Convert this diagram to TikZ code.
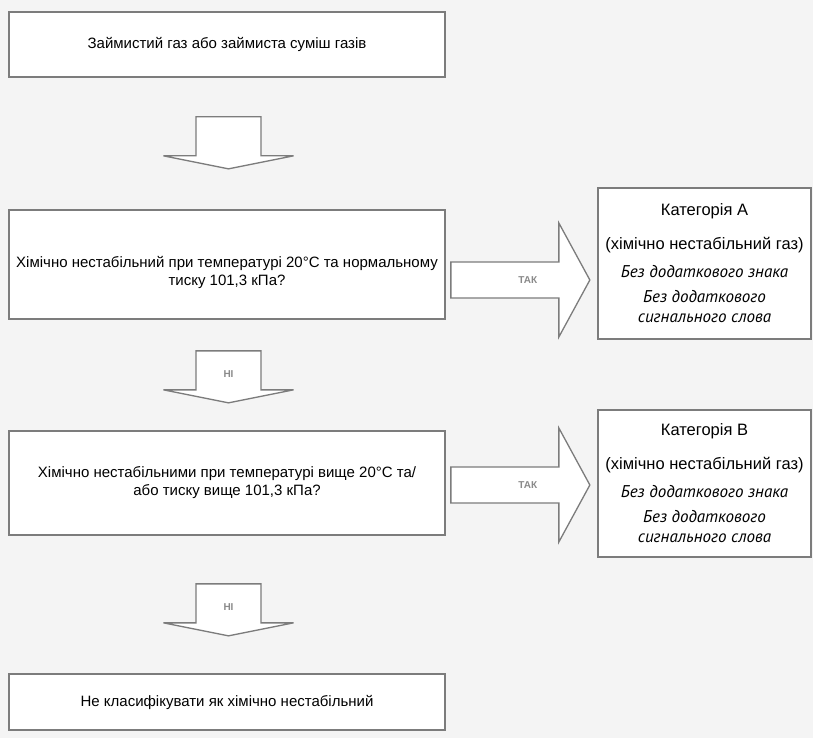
\documentclass[tikz,border=0pt]{standalone}
\usepackage{fontspec}
\setmainfont{Liberation Sans}
\newfontfamily\cursivefont{PT Sans}
\definecolor{bgcol}{HTML}{F4F4F4}
\definecolor{linegray}{HTML}{7C7C7C}
\definecolor{taggray}{HTML}{8A8A8A}
\begin{document}
\begin{tikzpicture}[x=1pt,y=-1pt,
  box/.style={draw=linegray, line width=1.7pt, fill=white, inner sep=0pt,
    align=center, font=\fontsize{15}{18}\selectfont},
  catbox/.style={box, font=\fontsize{16.5}{20}\selectfont},
  blockarrow/.style={draw=linegray, line width=1.3pt, fill=white, line join=miter},
  tag/.style={font=\fontsize{10}{11}\selectfont\bfseries, text=taggray, inner sep=0pt},
  pics/downarrow/.style={code={
    \draw[blockarrow] (-32.5,0) -- (32.5,0) -- (32.5,39) -- (65,39)
      -- (0,52) -- (-65,39) -- (-32.5,39) -- cycle;
    \node[tag] at (0,23) {#1};
  }},
  pics/rightarrow/.style={code={
    \draw[blockarrow] (0,-18) -- (108,-18) -- (108,-57) -- (139,0)
      -- (108,57) -- (108,18) -- (0,18) -- cycle;
    \node[tag] at (77,0) {#1};
  }}]
\fill[bgcol] (0,0) rectangle (813,738);
\useasboundingbox (0,0) rectangle (813,738);

% decision column
\node[box, minimum width=436pt, minimum height=65pt] (start) at (227,44.5)
  {Займистий газ або займиста суміш газів};
\node[box, minimum width=436pt, minimum height=109pt] (q1) at (227,264.5)
  {\rule{0pt}{27pt}Хімічно нестабільний при температурі 20°C та нормальному\\тиску 101,3 кПа?};
\node[box, minimum width=436pt, minimum height=104pt] (q2) at (227,483)
  {Хімічно нестабільними при температурі вище 20°C та/\\або тиску вище 101,3 кПа?};
\node[box, minimum width=436pt, minimum height=56pt] (none) at (227,702)
  {Не класифікувати як хімічно нестабільний};

% result boxes
\node[catbox, minimum width=213pt, minimum height=151pt] (catA) at (704.5,263.5)
  {Категорія A\\[14pt](хімічно нестабільний газ)\\[8pt]
   {\cursivefont\itshape\fontsize{17}{20}\selectfont Без додаткового знака}\\[5pt]
   {\cursivefont\itshape\fontsize{17}{20}\selectfont Без додаткового}\\
   {\cursivefont\itshape\fontsize{17}{20}\selectfont сигнального слова}};
\node[catbox, minimum width=213pt, minimum height=147pt] (catB) at (704.5,483.5)
  {Категорія B\\[14pt](хімічно нестабільний газ)\\[8pt]
   {\cursivefont\itshape\fontsize{17}{20}\selectfont Без додаткового знака}\\[5pt]
   {\cursivefont\itshape\fontsize{17}{20}\selectfont Без додаткового}\\
   {\cursivefont\itshape\fontsize{17}{20}\selectfont сигнального слова}};

% block arrows between the boxes
\path (start.south) ++(1.5,39) pic {downarrow={}};
\path (q1.south) ++(1.5,31) pic {downarrow={НІ}};
\path (q2.south) ++(1.5,48) pic {downarrow={НІ}};
\path (q1.east) ++(5,15.5) pic {rightarrow={ТАК}};
\path (q2.east) ++(5,2) pic {rightarrow={ТАК}};
\end{tikzpicture}
\end{document}
